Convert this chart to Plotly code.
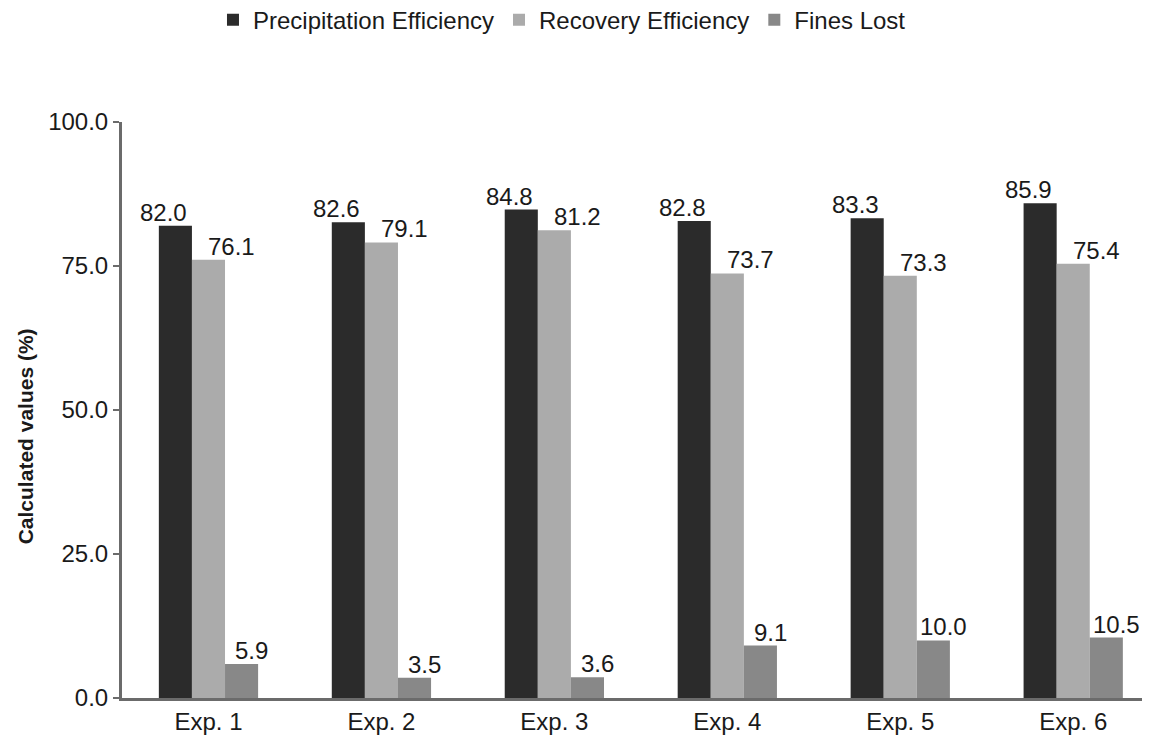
import plotly.graph_objects as go

categories = ["Exp. 1", "Exp. 2", "Exp. 3", "Exp. 4", "Exp. 5", "Exp. 6"]
precipitation_eff = [82.0, 82.6, 84.8, 82.8, 83.3, 85.9]
recovery_eff = [76.1, 79.1, 81.2, 73.7, 73.3, 75.4]
fines_lost = [5.9, 3.5, 3.6, 9.1, 10.0, 10.5]
series_names = ["Precipitation Efficiency", "Recovery Efficiency", "Fines Lost"]
y_ticks = [0, 25, 50, 75, 100]

FONT = "Liberation Sans, Arial, sans-serif"
colors = ["#2b2b2b", "#ababab", "#888888"]
label_xshift = [-12, 23, 10]  # label nudges (px) per series, as in the source

BARGAP = 0.426
series = [precipitation_eff, recovery_eff, fines_lost]
n = len(series)
bar_w = (1 - BARGAP) / n

fig = go.Figure()
annotations = []
for i, (name, vals, col) in enumerate(zip(series_names, series, colors)):
    fig.add_trace(go.Bar(
        x=categories, y=vals, name=name,
        marker=dict(color=col, line=dict(width=0)),
    ))
    off = (i - (n - 1) / 2) * bar_w
    for j, v in enumerate(vals):
        annotations.append(dict(
            x=j + off, y=v, xref="x", yref="y", text=f"{v:.1f}",
            showarrow=False, xanchor="center", yanchor="bottom",
            xshift=label_xshift[i], yshift=-2,
            font=dict(family=FONT, size=24, color="#1a1a1a"),
        ))

annotations.append(dict(text="<b>Calculated values (%)</b>", xref="paper", yref="paper",
                        x=-0.093, y=0.455, xanchor="center", yanchor="middle",
                        textangle=-90, showarrow=False,
                        font=dict(family=FONT, size=21, color="#1a1a1a")))

fig.update_layout(
    width=1142, height=732,
    margin=dict(l=114, r=0, t=114, b=42, autoexpand=False),
    paper_bgcolor="white", plot_bgcolor="white",
    barmode="group", bargap=BARGAP, bargroupgap=0,
    font=dict(family=FONT, size=24, color="#1a1a1a"),
    showlegend=True,
    legend=dict(orientation="h", x=0.428, xanchor="center", y=1.216, yanchor="top",
                font=dict(family=FONT, size=24, color="#1a1a1a"),
                traceorder="normal"),
    xaxis=dict(range=[-0.5, 5.444], showline=True, linecolor="#6b6b6b", linewidth=3,
               ticks="", showgrid=False, tickfont=dict(size=24)),
    yaxis=dict(range=[0, 100], tickvals=y_ticks, tickformat=".1f",
               showline=True, linecolor="#6b6b6b", linewidth=3,
               ticks="outside", ticklen=6, tickcolor="#6b6b6b", tickwidth=1.5,
               showgrid=False, zeroline=False, tickfont=dict(size=24)),
    annotations=annotations,
)

fig.write_html("out.html")
